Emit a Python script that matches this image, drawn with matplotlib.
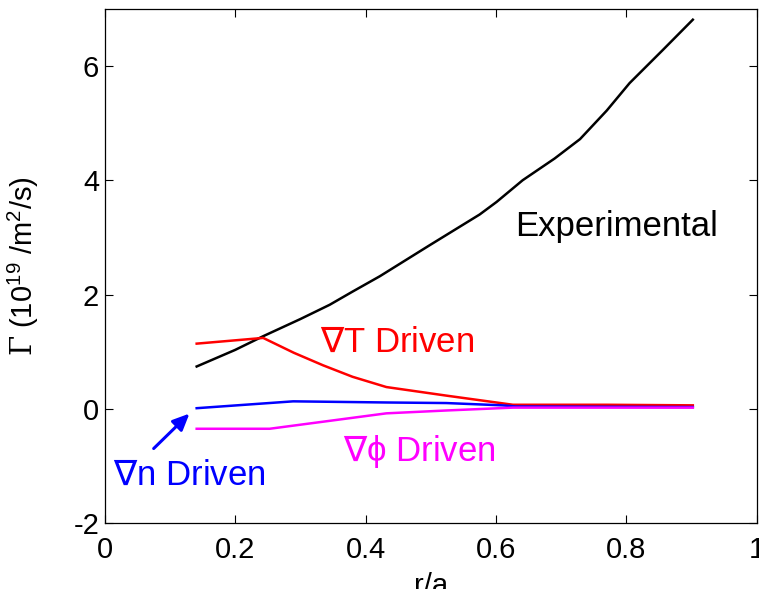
import matplotlib
matplotlib.use("Agg")
import matplotlib.pyplot as plt

plt.rcParams['font.family'] = ['Liberation Sans', 'DejaVu Sans']
plt.rcParams['axes.unicode_minus'] = False
plt.rcParams['mathtext.fontset'] = 'custom'
plt.rcParams['mathtext.rm'] = 'DejaVu Sans'
plt.rcParams['mathtext.tt'] = 'DejaVu Serif'
plt.rcParams['mathtext.sf'] = 'Liberation Sans'

# flux profiles vs r/a
x_exp = [0.141, 0.2, 0.243, 0.3, 0.345, 0.38, 0.422, 0.498, 0.575, 0.601, 0.641,
         0.69, 0.729, 0.77, 0.805, 0.856, 0.902]
y_exp = [0.74, 1.03, 1.27, 1.57, 1.82, 2.05, 2.32, 2.86, 3.4, 3.62, 4.0,
         4.38, 4.72, 5.22, 5.7, 6.28, 6.81]

x_T = [0.141, 0.243, 0.29, 0.335, 0.38, 0.432, 0.524, 0.626, 0.77, 0.902]
y_T = [1.14, 1.24, 0.98, 0.76, 0.56, 0.38, 0.23, 0.07, 0.07, 0.06]

x_n = [0.141, 0.289, 0.432, 0.524, 0.61, 0.63, 0.902]
y_n = [0.01, 0.13, 0.11, 0.1, 0.06, 0.04, 0.03]

x_phi = [0.141, 0.253, 0.432, 0.524, 0.626, 0.902]
y_phi = [-0.35, -0.35, -0.08, -0.03, 0.02, 0.02]

fig = plt.figure(figsize=(7.59, 5.89), dpi=100)
ax = fig.add_axes([0.138, 0.112, 0.859, 0.873])

ax.plot(x_exp, y_exp, color='black', lw=1.8)
ax.plot(x_T, y_T, color='red', lw=1.8)
ax.plot(x_n, y_n, color='blue', lw=1.8)
ax.plot(x_phi, y_phi, color='magenta', lw=1.8)

ax.text(0.629, 3.19, 'Experimental', color='black', fontsize=25, va='center')
ax.text(0.33, 1.16, r'$\nabla$T Driven', color='red', fontsize=25, va='center')
ax.text(0.365, -0.75, '$\\nabla$\u03d5 Driven', color='magenta', fontsize=25, va='center')
ax.text(0.012, -1.16, r'$\nabla$n Driven', color='blue', fontsize=25, va='center')
ax.annotate('', xy=(0.133, -0.05), xytext=(0.072, -0.73),
            arrowprops=dict(arrowstyle='-|>,head_length=1.0,head_width=0.45',
                            color='blue', lw=2.2))

ax.set_xlim(0, 1)
ax.set_ylim(-2, 7)
ax.set_xticks([0, 0.2, 0.4, 0.6, 0.8, 1])
ax.set_xticklabels(['0', '0.2', '0.4', '0.6', '0.8', '1'])
ax.set_yticks([-2, 0, 2, 4, 6])
ax.tick_params(direction='in', top=True, right=True, length=6, width=0.8,
               labelsize=21)
ax.tick_params(axis='x', pad=9)
ax.tick_params(axis='y', pad=4)
for s in ax.spines.values():
    s.set_linewidth(0.9)

ax.set_xlabel('r/a', fontsize=21, labelpad=6)
ax.set_ylabel(r'$\mathtt{\Gamma}$ (10$^{\mathsf{19}}$ /m$^{\mathsf{2}}$/s)', fontsize=21)
ax.yaxis.set_label_coords(-0.097, 0.5)

fig.savefig('out.png', dpi=100)
